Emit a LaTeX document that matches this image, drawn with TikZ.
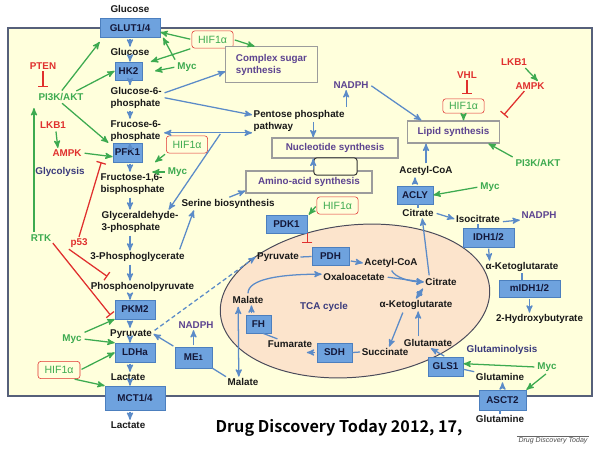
\documentclass[tikz,border=0pt]{standalone}
\usepackage{fontspec}
\setmainfont{Liberation Sans}
\newfontfamily\citefont{Noto Sans CJK KR Bold}
\usepackage{tikz}
\usetikzlibrary{arrows,arrows.meta}
\definecolor{bgyel}{HTML}{FFFFDC}
\definecolor{framec}{HTML}{56607A}
\definecolor{tcafill}{HTML}{FCE4CC}
\definecolor{tcaline}{HTML}{4A4A5A}
\definecolor{enzfill}{HTML}{6EA2DE}
\definecolor{enzdraw}{HTML}{4C7FBE}
\definecolor{enztext}{HTML}{14183A}
\definecolor{flowc}{HTML}{5B8BC8}
\definecolor{sgreen}{HTML}{3DAA50}
\definecolor{sred}{HTML}{E0302E}
\definecolor{spurple}{HTML}{5C4390}
\definecolor{snavy}{HTML}{3A3A7C}
\definecolor{procdraw}{HTML}{9C9C9C}
\tikzset{
  lbl/.style = {align=center, inner sep=1pt,
    font=\fontsize{7}{8.6}\selectfont\bfseries},
  met/.style = {lbl, text=black!90},% metabolite
  enz/.style = {lbl, rectangle, fill=enzfill, draw=enzdraw, text=enztext,
    minimum height=0.47cm, inner sep=0pt},% enzyme box
  sg/.style = {lbl, text=sgreen},% signal, activating
  sr/.style = {lbl, text=sred},% signal, inhibiting
  sp/.style = {lbl, text=spurple},% NADPH
  sn/.style = {lbl, text=snavy},% pathway name
  hif/.style = {lbl, rectangle, rounded corners=2pt, draw=sred, text=sgreen,
    minimum width=1.03cm, minimum height=0.43cm,
    font=\fontsize{7.5}{8}\selectfont},
  proc/.style = {lbl, rectangle, draw=procdraw, fill=bgyel, text=spurple,
    line width=0.8pt},% process box
  flow/.style = {draw=flowc, line width=0.9pt, ->, shorten <=1pt},
  link/.style = {draw=flowc, line width=0.9pt},
  act/.style = {draw=sgreen, line width=0.9pt, ->, shorten <=1pt},
  inh/.style = {draw=sred, line width=0.9pt, -{Bar[width=7pt,line width=0.9pt]}}
}

\begin{document}
\begin{tikzpicture}[x=0.025cm, y=-0.025cm, >=stealth']
    \useasboundingbox (0,0) rectangle (600,449);
    % cell and mitochondrion
    \draw[draw=framec, fill=bgyel, line width=1.1pt] (8,28) rectangle (592,396);
    \draw[fill=tcafill, draw=tcaline, line width=0.7pt, rotate around={6:(355,301)}]
        (355,301) ellipse (3.38cm and 1.9cm);

    % glycolysis
    \node[met] (glcout) at (130,9) {Glucose};
    \node[enz, minimum width=1.5cm] (glut) at (130,28) {GLUT1/4};
    \node[met] (glcin) at (130,52) {Glucose};
    \node[enz, minimum width=0.68cm, minimum height=0.45cm] (hk2) at (128.5,71) {HK2};
    \node[met, align=left, anchor=west] (g6p) at (109,97.5) {Glucose-6-\\phosphate};
    \node[met, align=left, anchor=west] (f6p) at (109,131) {Frucose-6-\\phosphate};
    \node[enz, minimum width=0.73cm] (pfk1) at (127.5,152.5) {PFK1};
    \node[met, align=left, anchor=west] (f16bp) at (99,184) {Fructose-1,6-\\bisphosphate};
    \node[met, align=left, anchor=west] (g3p) at (100,222) {Glyceraldehyde-\\3-phosphate};
    \node[met] (pg3) at (137.5,257) {3-Phosphoglycerate};
    \node[met] (pep) at (142.5,287) {Phosphoenolpyruvate};
    \node[enz, minimum width=1cm] (pkm2) at (135,309.5) {PKM2};
    \node[met] (pyr) at (131,334) {Pyruvate};
    \node[enz, minimum width=1cm] (ldha) at (135,352.5) {LDHa};
    \node[met] (lac) at (128,377) {Lactate};
    \node[enz, minimum width=1.5cm, minimum height=0.6cm] (mct) at (135,398) {MCT1/4};
    \node[met] (lacout) at (128,425) {Lactate};

    \draw[flow] (glut.south -| glcin) -- (glcin.north);
    \draw[flow] (glcin.south) -- (glcin.south |- hk2.north);
    \draw[flow] (hk2.south -| glcin) -- (glcin |- g6p.north);
    \draw[flow] (glcin |- g6p.south) -- (glcin |- f6p.north);
    \draw[flow] (glcin |- f6p.south) -- (glcin |- pfk1.north);
    \draw[flow] (glcin |- pfk1.south) -- (glcin |- f16bp.north);
    \draw[flow] (glcin |- f16bp.south) -- (glcin |- g3p.north);
    \draw[flow] (glcin |- g3p.south) -- (glcin |- pg3.north);
    \draw[flow] (glcin |- pg3.south) -- (glcin |- pep.north);
    \draw[flow] (glcin |- pep.south) -- (glcin |- pkm2.north);
    \draw[flow] (glcin |- pkm2.south) -- (glcin |- pyr.north);
    \draw[flow] (glcin |- pyr.south) -- (glcin |- ldha.north);
    \draw[flow] (glcin |- ldha.south) -- (glcin |- lac.north);
    \draw[flow] (glcin |- lac.south) -- (glcin |- mct.north);
    \draw[flow] (glcin |- mct.south) -- (glcin |- lacout.north);

    % signals, left
    \node[sr] (pten) at (43,66) {PTEN};
    \node[sg] (pi3k) at (61,97) {PI3K/AKT};
    \node[sr] (lkb1) at (53,125) {LKB1};
    \node[sr] (ampk) at (67,153) {AMPK};
    \node[sn] (glycol) at (60,172) {Glycolysis};
    \node[sg] (rtk) at (41,238) {RTK};
    \node[sr] (p53) at (79,243) {p53};
    \node[sg] (mycl) at (72,339) {Myc};
    \node[hif, minimum width=1.05cm] (hifl) at (59,370) {HIF1α};
    \node[hif] (hift) at (212.5,39.5) {HIF1α};
    \node[sg] (myct) at (187,67) {Myc};
    \node[hif] (hifm) at (187,144.5) {HIF1α};
    \node[sg] (mycm) at (177.5,172) {Myc};
    \coordinate (mycmtip) at ([xshift=-10pt]mycm.west);

    \draw[inh] (pten.south) -- ([yshift=3pt]pten.south |- pi3k.north);
    \draw[act] (pi3k.north) -- ([yshift=-3pt]glut.south west);
    \draw[act] ([xshift=10pt]pi3k.north) -- (hk2.west);
    \draw[act] (pi3k.south) -- ([xshift=-3pt]pfk1.north west);
    \draw[act] ([xshift=-5pt]rtk.north) -- ([xshift=-5pt,yshift=-4pt]rtk.north |- pi3k.south);
    \draw[act] ([xshift=2pt]lkb1.south) -- ([xshift=5pt]ampk.north west);
    \draw[act] (ampk.east) -- ([yshift=-3pt]pfk1.west);
    \draw[inh] (p53.north) -- ([xshift=-8pt]pfk1.south west);
    \draw[inh] (p53.south west) -- ([xshift=13pt,yshift=3pt]pep.north west);
    \draw[inh] (rtk.south east) -- ([xshift=-3pt,yshift=-4pt]pkm2.west);
    \draw[act] (mycl.north east) -- (pkm2.south west);
    \draw[act] (mycl.east) -- (ldha.north west);
    \draw[act] (hifl.east) -- (ldha.west);
    \draw[act] ([xshift=-5pt]hifl.south east) -- (mct.north west);
    \draw[act] (hift.west) -- ([yshift=-3pt]glut.east);
    \draw[act] (hift.south west) -- ([xshift=6pt]hk2.north east);
    \draw[act] (myct.north west) -- ([xshift=2pt]glut.south east);
    \draw[act] (myct.west) -- ([xshift=9pt]hk2.east);
    \draw[act] (hifm.south west) -- ([xshift=9pt]pfk1.south east);
    \draw[act] (mycm.west) -- (mycmtip);

    % biosynthesis
    \node[proc, align=left, minimum width=2.28cm, minimum height=0.88cm] (cplx) at (271.5,64.5) {Complex sugar\\synthesis};
    \node[met, align=left, anchor=west] (ppp) at (252,120.5) {Pentose phosphate\\pathway};
    \node[sp] (nadpht) at (351,85) {NADPH};
    \node[proc, minimum width=3.15cm, minimum height=0.5cm] (nucl) at (335,148) {Nucleotide synthesis};
    \node[proc, minimum width=3.15cm, minimum height=0.55cm] (amino) at (309,182) {Amino-acid synthesis};
    \node[draw=black!80, fill=bgyel, rounded corners=2pt, line width=0.7pt,
        minimum width=1.08cm, minimum height=0.43cm] (blank) at (335.5,166.5) {};
    \node[met] (serine) at (228,204) {Serine biosynthesis};
    \coordinate (vax) at ([xshift=3pt]amino.north);

    \draw[act] (hift.east) -- ([xshift=-12pt]cplx.north);
    \draw[flow] ([yshift=3pt]g6p.east) -- ([yshift=-5pt]cplx.west);
    \draw[flow] (g6p.east) -- ([yshift=4pt]ppp.west);
    \draw[flow, <->] (f6p.east |- ppp.south west) -- (ppp.south west);
    \draw[flow] ([xshift=-22pt]ppp.south west) -- ([xshift=-8pt]g3p.north east);
    \draw[flow] (ppp.north east) -- (ppp.north east |- nadpht.south);
    \draw[flow] (vax |- ppp.east) -- (vax |- nucl.north);
    \draw[flow] (vax |- amino.north) -- (vax |- nucl.south);
    \draw[flow] (serine.north) -- ([yshift=2pt]amino.south west);
    \draw[flow] ([xshift=-5pt]pg3.north east) -- ([xshift=10pt]serine.south west);

    % pyruvate into the mitochondrion
    \node[enz, minimum width=1.03cm, minimum height=0.45cm] (pdk1) at (286.5,224) {PDK1};
    \node[hif] (hifp) at (337.5,205.5) {HIF1α};
    \node[met] (pyrm) at (278,257) {Pyruvate};
    \node[enz, minimum width=0.93cm, minimum height=0.45cm] (pdh) at (330.5,256.5) {PDH};
    \node[met] (acoam) at (391,263) {Acetyl-CoA};
    \node[met] (oaa) at (354,277) {Oxaloacetate};
    \node[met] (citm) at (441,282) {Citrate};
    \node[met] (akgm) at (416,305) {α-Ketoglutarate};
    \node[sn] (tca) at (324,307) {TCA cycle};
    \node[met] (malm) at (248,300) {Malate};
    \node[enz, minimum width=0.63cm, minimum height=0.45cm] (fh) at (258.5,324) {FH};
    \node[met] (fum) at (290,344) {Fumarate};
    \node[enz, minimum width=0.88cm] (sdh) at (334.5,352.5) {SDH};
    \node[met] (succ) at (385,352) {Succinate};
    \node[met] (glu) at (428,343) {Glutamate};
    \node[enz, minimum width=0.88cm] (gls1) at (445.5,366.5) {GLS1};
    \node[sn] (glnlys) at (502,350) {Glutaminolysis};
    \node[met] (glnm) at (500,377) {Glutamine};
    \node[sg] (mycr2) at (547,367) {Myc};
    \node[enz, minimum width=1.18cm, minimum height=0.5cm] (asct2) at (502.5,400) {ASCT2};
    \node[met] (glnout) at (500,419) {Glutamine};
    \node[met] (malc) at (243,382) {Malate};
    \node[enz, minimum width=0.93cm, minimum height=0.52cm] (me1) at (193.5,357.5) {ME{\fontsize{5.5}{6}\selectfont1}};
    \node[sp] (nadphl) at (196,325) {NADPH};

    \draw[act] (hifp.west) -- ([xshift=1pt]pdk1.north east);
    \draw[inh] (pdk1.south east) -- ([yshift=3pt]pdk1.south east |- pdh.north);
    \draw[flow, dash pattern=on 3pt off 2pt] ([yshift=2pt]pyr.east) -- (pyrm.west);
    \draw[link] (pyrm.east) -- (pdh.west);
    \draw[flow] ([yshift=-3pt]pdh.east) -- (acoam.west);
    \draw[flow] (oaa.east) -- (citm.west);
    \draw[flow] (acoam.south) .. controls +(4,8) and +(-14,0) .. (citm.west);
    \draw[flow, <->] (citm.south west) -- (akgm.north);
    \draw[flow] ([xshift=-9pt]akgm.south) -- ([xshift=3pt]succ.north);
    \draw[flow] ([xshift=-7pt]glu.north) -- ([xshift=-7pt]glu.north |- akgm.south);
    \draw[flow] (gls1.north) -- ([xshift=2pt]glu.south);
    \draw[link] (glnm.north west) -- ([yshift=-2pt]gls1.east);
    \draw[act] (mycr2.west) -- ([yshift=2pt]gls1.east);
    \draw[act] (mycr2.south) -- (asct2.north east);
    \draw[flow] (asct2.north) -- (asct2.north |- glnm.south);
    \draw[link] (glnout.north) -- (glnout.north |- asct2.south);
    \draw[link] (succ.west) -- (sdh.east);
    \draw[flow] (sdh.west) -- ([xshift=-5pt]sdh.west -| fum.south east);
    \draw[link] ([xshift=8pt]fum.north west) -- ([xshift=-6pt]fh.south east);
    \draw[flow] ([xshift=-5pt]fh.north) -- ([xshift=-5pt]fh.north |- malm.south);
    \draw[flow] (malm.north) .. controls +(0,-16) and +(-40,0) .. ([yshift=2pt]oaa.west);
    \draw[flow, <->] ([xshift=-7pt]malm.south) -- ([xshift=-3pt]malc.north);
    \draw[link] (malc.north west) -- (me1.south east);
    \draw[flow] (me1.north) -- (me1.north |- nadphl.south);
    \draw[flow] (me1.north west) -- (pyr.east);

    % lipid synthesis
    \node[met] (acoac) at (426,171) {Acetyl-CoA};
    \node[enz, minimum width=0.9cm, minimum height=0.45cm] (acly) at (415,195) {ACLY};
    \node[sg] (mycr1) at (490,187) {Myc};
    \node[met] (citc) at (418,213) {Citrate};
    \node[met] (isocit) at (478,219) {Isocitrate};
    \node[sp] (nadphr) at (539,215) {NADPH};
    \node[enz, minimum width=1.28cm] (idh) at (488.5,237.5) {IDH1/2};
    \node[met] (akgc) at (522,267) {α-Ketoglutarate};
    \node[enz, minimum width=1.53cm, minimum height=0.43cm] (midh) at (529.5,288.5) {mIDH1/2};
    \node[met] (hbut) at (539.5,319) {2-Hydroxybutyrate};
    \node[sg] (pi3kr) at (538,163) {PI3K/AKT};
    \node[sr] (vhl) at (467,75) {VHL};
    \node[hif, minimum height=0.36cm] (hifr) at (463.5,106) {HIF1α};
    \node[sr] (lkb1r) at (514,62) {LKB1};
    \node[sr] (ampkr) at (530,86) {AMPK};
    \node[proc, minimum width=2.28cm, minimum height=0.55cm] (lipid) at (453.5,132) {Lipid synthesis};

    \draw[inh] (vhl.south) -- ([yshift=3pt]vhl.south |- hifr.north);
    \draw[act] (hifr.south) -- (hifr.south |- lipid.north);
    \draw[act] ([xshift=-3pt]lkb1r.south east) -- ([xshift=-6pt]ampkr.north east);
    \draw[inh] ([xshift=-4pt]ampkr.south) -- ([xshift=3pt,yshift=4pt]lipid.north east);
    \draw[flow] (nadpht.east) -- ([xshift=10pt]lipid.north west);
    \draw[flow] (acoac.north) -- (acoac.north |- lipid.south);
    \draw[act] (pi3kr.north west) -- ([xshift=-8pt]lipid.south east);
    \draw[flow] (acly.north) -- (acly.north |- acoac.south);
    \draw[act] (mycr1.west) -- (acly.east);
    \draw[link] (citc.north) -- (citc.north |- acly.south);
    \draw[flow] (citc.east) -- (isocit.west);
    \draw[flow] ([yshift=-2pt]isocit.east) -- (nadphr.south west);
    \draw[link] (isocit.south) -- (isocit.south |- idh.north);
    \draw[flow] (idh.south) -- ([xshift=4pt]akgc.north west);
    \draw[link] (akgc.south) -- (akgc.south |- midh.north);
    \draw[flow] (midh.south) -- (midh.south |- hbut.north);
    \draw[flow] ([xshift=4pt]citm.north west) -- ([xshift=3pt]citc.south);

    % source
    \node[font=\citefont\fontsize{11.5}{13}\selectfont, inner sep=0pt] (cite) at (339,428) {Drug Discovery Today 2012, 17,};
    \node[font=\fontsize{5}{6}\selectfont\itshape, text=black!70, inner sep=1pt] (ddt) at (553,441) {Drug Discovery Today};
    \draw[black!60, line width=0.4pt] (ddt.north west) -- (ddt.north east);
\end{tikzpicture}
\end{document}
